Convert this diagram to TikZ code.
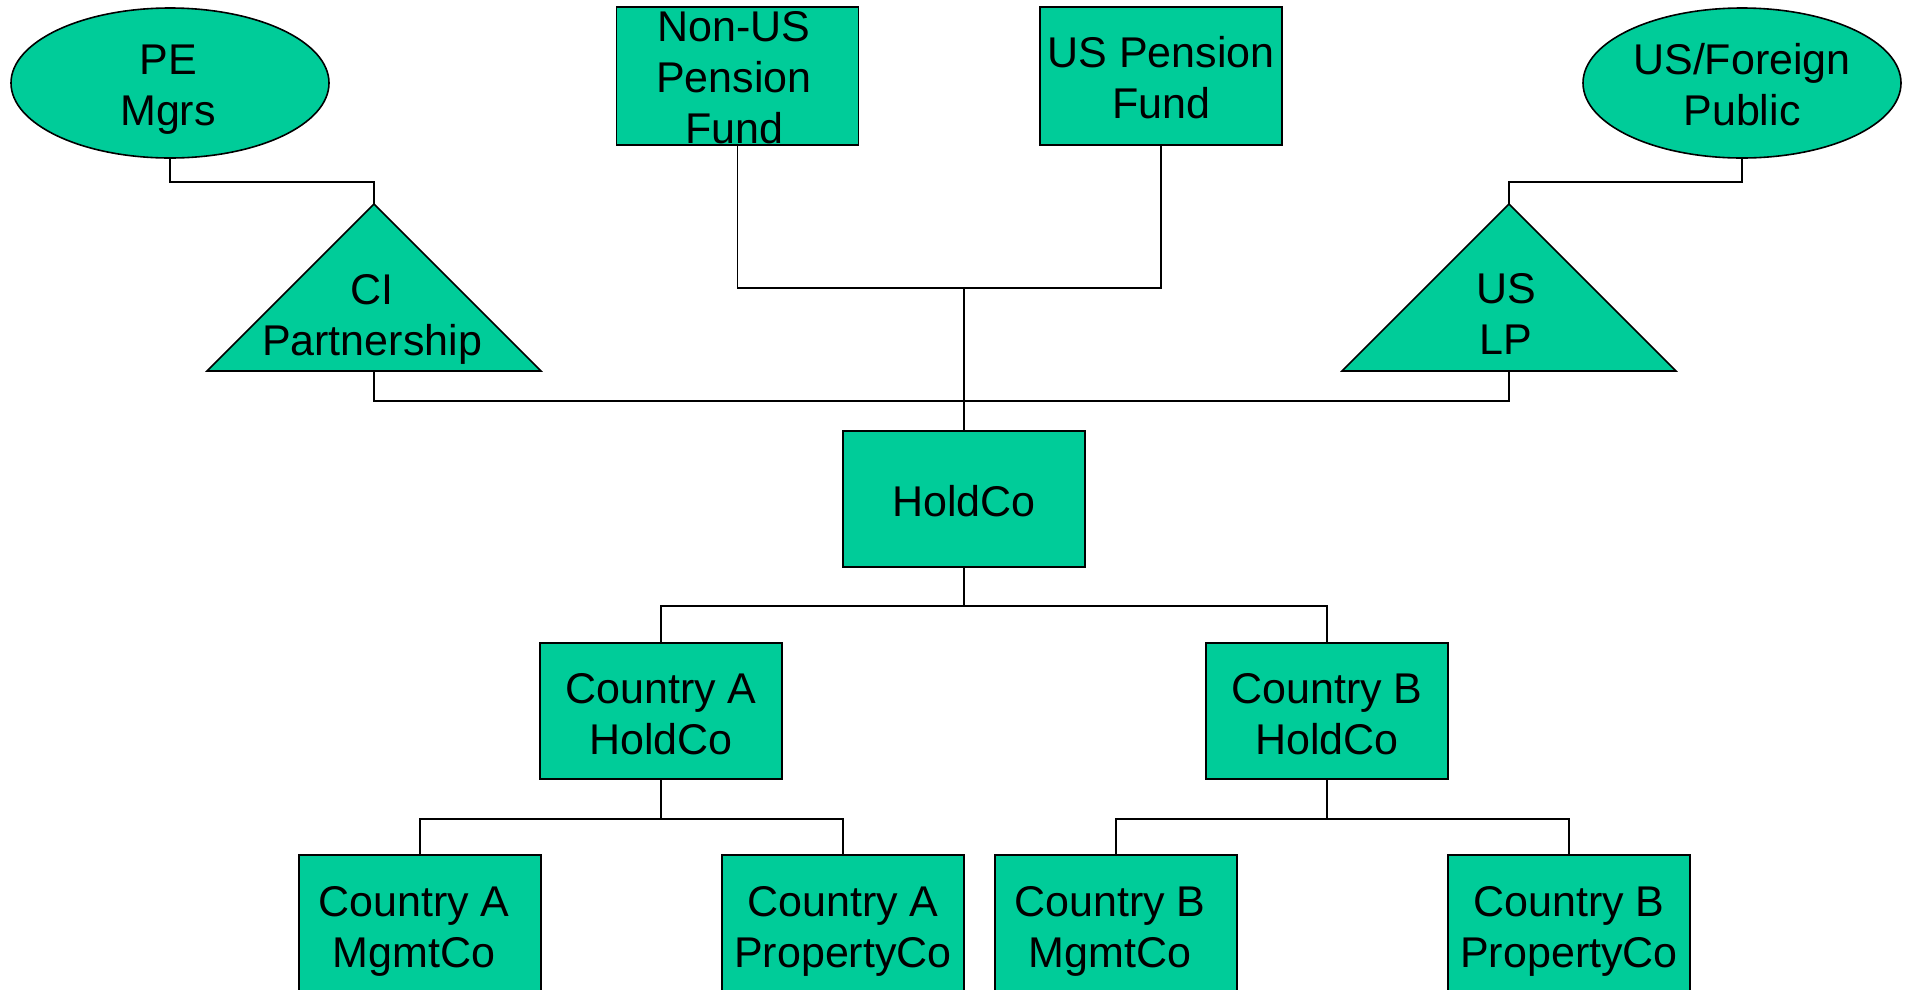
\documentclass[tikz,border=0pt]{standalone}
\usepackage{fontspec}
\setmainfont{Liberation Sans}
\usetikzlibrary{shapes.geometric}
\definecolor{ent}{RGB}{0,204,153}
\begin{document}
\begin{tikzpicture}[x=1pt,y=-1pt,
  box/.style={draw=black, line width=1.6pt, fill=ent, rectangle, minimum width=242pt, minimum height=136pt, inner sep=0pt},
  oval/.style={draw=black, line width=1.6pt, fill=ent, ellipse, minimum width=318pt, minimum height=150pt, inner sep=0pt},
  tri/.style={draw=black, line width=1.6pt, fill=ent, line join=miter},
  txt/.style={font=\fontsize{43}{51}\selectfont, align=center, inner sep=0pt},
  link/.style={draw=black, line width=1.5pt},
  trunk/.style={draw=black, line width=2.6pt}]
\path[use as bounding box] (0,0) rectangle (1905,989);
\clip (0,0) rectangle (1905,989);

% top entities
\node[oval] (pe) at (170,83) {};
\node[txt] (pet) at (168,90) {PE\\Mgrs};
\node[oval] (pub) at (1742,83) {};
\node[txt] (pubt) at (1742,85) {US/Foreign\\Public};
\node[box, minimum height=138pt] (nonus) at (737.5,76) {};
\node[txt] (nonust) at (734,78) {Non-US\\Pension\\Fund};
\node[box, minimum height=138pt] (uspf) at (1161,76) {};
\node[txt] (uspft) at (1161,78) {US Pension\\Fund};

% triangles
\coordinate (ci) at (374,204);
\coordinate (cibase) at (374,371);
\path[tri] (ci) -- (541,371) -- (207,371) -- cycle;
\node[txt] (cit) at (372,319) {CI\\Partnership};
\coordinate (lp) at (1509,204);
\coordinate (lpbase) at (1509,371);
\path[tri] (lp) -- (1676,371) -- (1342,371) -- cycle;
\node[txt] (lpt) at (1506,314) {US\\LP};

% holdco and subsidiaries
\node[box] (holdco) at (964,499) {};
\node[txt] (holdcot) at (964,501) {HoldCo};
\node[box] (ah) at (661,711) {};
\node[txt] (aht) at (661,714) {Country A\\HoldCo};
\node[box] (bh) at (1327,711) {};
\node[txt] (bht) at (1327,714) {Country B\\HoldCo};
\node[box] (am) at (420,923) {};
\node[txt] (amt) at (414,931) {Country A\\MgmtCo};
\node[box] (ap) at (843,923) {};
\node[txt] (apt) at (843,931) {Country A\\PropertyCo};
\node[box] (bm) at (1116,923) {};
\node[txt] (bmt) at (1110,931) {Country B\\MgmtCo};
\node[box] (bp) at (1569,923) {};
\node[txt] (bpt) at (1569,931) {Country B\\PropertyCo};

% connectors
\coordinate (jp) at (964,288);
\coordinate (jh) at (964,401);
\draw[link] (pe.south) -- ++(0,23) -| (ci);
\draw[link] (pub.south) -- ++(0,23) -| (lp);
\draw[link] (nonus.south) |- (jp) -| (uspf.south);
\draw[trunk] (jp) -- (holdco.north);
\draw[link] (cibase) |- (jh) -| (lpbase);
\draw[trunk] (holdco.south) -- ++(0,38) coordinate (jb);
\draw[link] (ah.north) |- (jb) -| (bh.north);
\draw[trunk] (ah.south) -- ++(0,39) coordinate (ja);
\draw[link] (am.north) |- (ja) -| (ap.north);
\draw[trunk] (bh.south) -- ++(0,39) coordinate (jc);
\draw[link] (bm.north) |- (jc) -| (bp.north);
\end{tikzpicture}
\end{document}
